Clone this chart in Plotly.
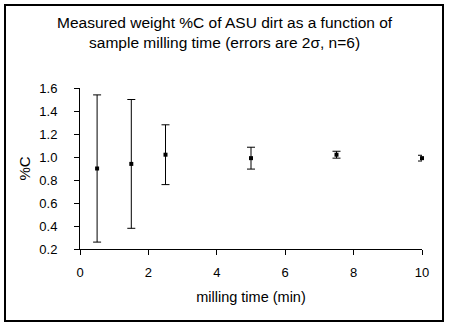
import plotly.graph_objects as go

# Milling time (min), measured %C and 2-sigma error (n=6)
milling_time = [0.5, 1.5, 2.5, 5.0, 7.5, 10.0]
percent_c = [0.90, 0.94, 1.02, 0.99, 1.02, 0.99]
two_sigma = [0.64, 0.56, 0.26, 0.095, 0.03, 0.025]

x_ticks = [0, 2, 4, 6, 8, 10]
y_ticks = [0.2, 0.4, 0.6, 0.8, 1.0, 1.2, 1.4, 1.6]
y_tick_text = ["0.2", "0.4", "0.6", "0.8", "1.0", "1.2", "1.4", "1.6"]

W, H = 450, 327
ML, MR, MT, MB = 80, 28, 88, 78
pw, ph = W - ML - MR, H - MT - MB


def px_x(px):
    return (px - ML) / pw


def px_y(py):
    return (H - MB - py) / ph


FONT = "Liberation Sans, Arial, sans-serif"

fig = go.Figure()
fig.add_trace(go.Scatter(
    x=milling_time, y=percent_c, mode="markers",
    marker=dict(symbol="square", size=4, color="black"),
    error_y=dict(type="data", array=two_sigma, visible=True,
                 color="black", thickness=1, width=4),
    showlegend=False, cliponaxis=False,
))

fig.update_layout(
    width=W, height=H,
    margin=dict(l=ML, r=MR, t=MT, b=MB),
    paper_bgcolor="white", plot_bgcolor="white",
    font=dict(family=FONT, size=13, color="black"),
    xaxis=dict(
        range=[0, 10], tickvals=x_ticks, ticks="outside", ticklen=5,
        tickcolor="black", showline=True, linecolor="black", linewidth=1,
        showgrid=False, zeroline=False, ticklabelstandoff=6,
        title=dict(text="milling time (min)", standoff=13,
                   font=dict(size=14.5)),
    ),
    yaxis=dict(
        range=[0.2, 1.6], tickvals=y_ticks, ticktext=y_tick_text,
        ticks="outside", ticklen=5, tickcolor="black",
        showline=True, linecolor="black", linewidth=1,
        showgrid=False, zeroline=False, ticklabelstandoff=14,
        title=dict(text="%C", standoff=5, font=dict(size=15)),
    ),
    shapes=[dict(
        type="rect", xref="paper", yref="paper",
        x0=px_x(5), x1=px_x(443), y0=px_y(321), y1=px_y(5),
        line=dict(color="black", width=2), fillcolor="rgba(0,0,0,0)",
        layer="below",
    )],
    annotations=[dict(
        text="Measured weight %C of ASU dirt as a function of<br>"
             "sample milling time (errors are 2σ, n=6)",
        xref="paper", yref="paper", x=px_x(225), y=px_y(33),
        xanchor="center", yanchor="middle", showarrow=False,
        font=dict(family=FONT, size=15.5, color="black"),
    )],
)

fig.write_html("out.html")
